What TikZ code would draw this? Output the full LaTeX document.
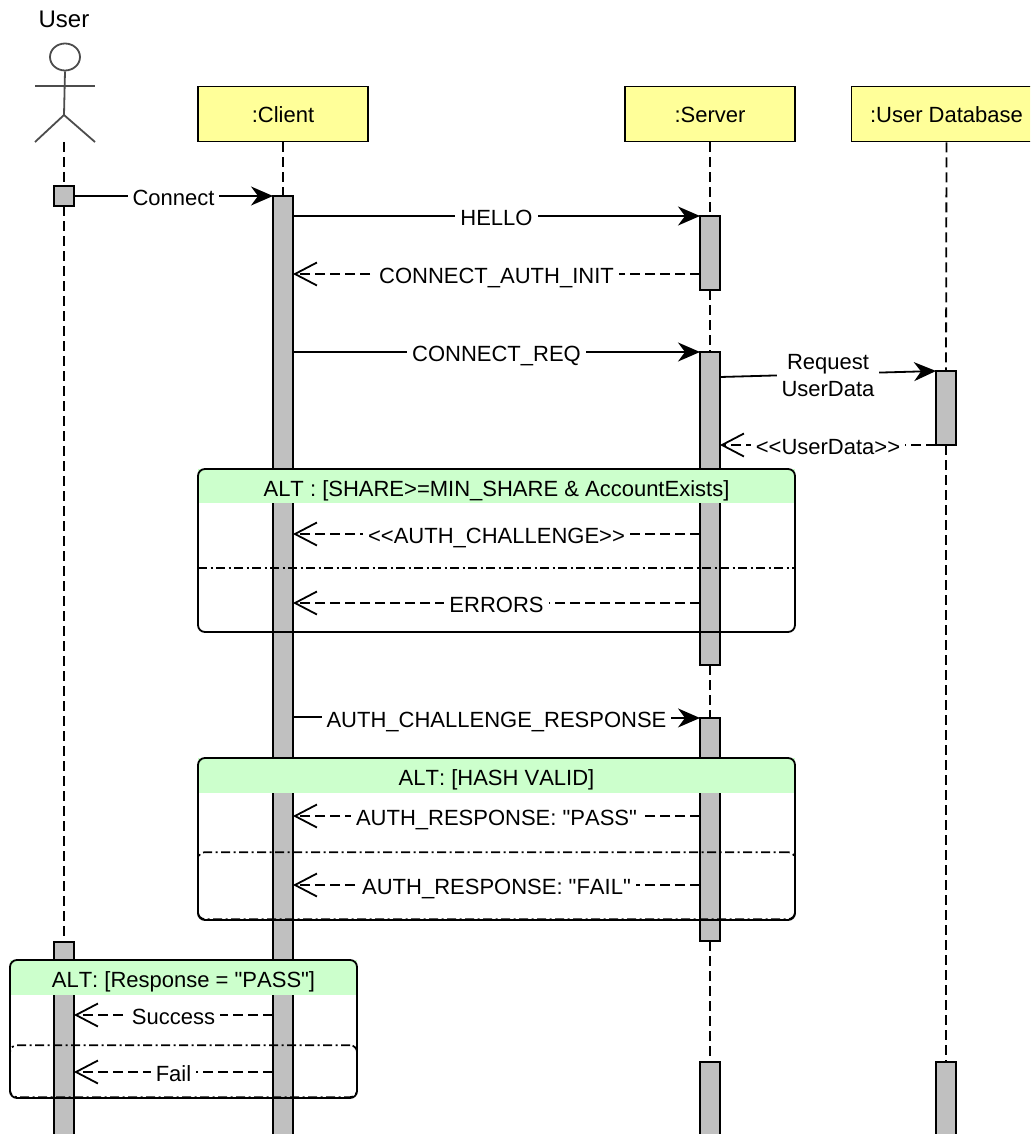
\documentclass[tikz,border=0pt]{standalone}
\usepackage{fontspec}
\setmainfont{Liberation Sans}[Ligatures=TeXOff, Kerning=Off]
\usetikzlibrary{arrows.meta, positioning, calc, shapes.geometric}
\definecolor{headfill}{HTML}{FFFF99}
\definecolor{barfill}{HTML}{C0C0C0}
\definecolor{altfill}{HTML}{CCFFCC}
\begin{document}
\begin{tikzpicture}[x=1pt, y=-1pt, line width=1.8pt,
    every node/.style={font=\fontsize{22}{27}\selectfont},
    head/.style={draw, fill=headfill, minimum height=55pt, inner sep=0pt, text height=17pt, text depth=0pt},
    bar/.style={draw, fill=barfill, minimum width=20pt, inner sep=0pt, outer sep=0pt, anchor=north},
    althead/.style={fill=altfill, minimum height=34pt, inner sep=0pt, outer sep=0pt, anchor=north west, text height=20pt, text depth=0pt},
    altbox/.style={draw, rounded corners=7pt, inner sep=0pt, outer sep=0pt, anchor=north},
    altlow/.style={draw, altdash, rounded corners=7pt, inner sep=0pt, anchor=south},
    altdash/.style={line width=1.7pt, dash pattern=on 9pt off 3.5pt on 2pt off 3.5pt},
    life/.style={dash pattern=on 10pt off 5pt},
    call/.style={-{Stealth[length=22pt, width=19pt, inset=7pt]}},
    reply/.style={-{Straight Barb[length=22pt, width=23pt]}, dash pattern=on 10pt off 5pt},
    lbl/.style={midway, fill=white, inner xsep=5pt, inner ysep=1pt, align=center, text height=20pt, text depth=1pt}]
  \clip (0,0) rectangle (1030,1134);
  \node[font=\fontsize{24}{27}\selectfont, text height=17pt, text depth=0pt] (usertitle) at (64,19) {User};
  \node[draw=black!70, ellipse, minimum width=30pt, minimum height=27pt, inner sep=0pt] (userface) at (65,57) {};
  \coordinate (userhip) at (64,115);
  \draw[black!70] (userface.south) -- (userhip) -- (35,142);
  \draw[black!70] (userhip) -- (95,142);
  \draw[black!70] (35,86) -- (95,86);

  \node[head, minimum width=170pt] (client) at (283,114) {:Client};
  \node[head, minimum width=170pt] (server) at (710,114) {:Server};
  \node[head, minimum width=190pt] (database) at (946.5,114) {:User Database};

  \node[bar, minimum height=20pt] (userA) at (64,186) {};
  \node[bar, minimum height=200pt] (userB) at (64,942) {};
  \node[bar, minimum height=950pt] (clientA) at (283,196) {};
  \node[bar, minimum height=74pt] (serverA) at (710,216) {};
  \node[bar, minimum height=313pt] (serverB) at (710,352) {};
  \node[bar, minimum height=223pt] (serverC) at (710,718) {};
  \node[bar, minimum height=80pt] (serverD) at (710,1062) {};
  \node[bar, minimum height=74pt] (databaseA) at (946,371) {};
  \node[bar, minimum height=80pt] (databaseB) at (946,1062) {};

  \draw[life] (64,142) -- (userA.north);
  \draw[life] (userA.south) -- (userB.north);
  \draw[life] (client.south) -- (clientA.north);
  \draw[life] (server.south) -- (serverA.north);
  \draw[life] (serverA.south) -- (serverB.north);
  \draw[life] (serverB.south) -- (serverC.north);
  \draw[life] (serverC.south) -- (serverD.north);
  \draw[life] (database.south) -- (databaseA.north);
  \draw[life] (databaseA.south) -- (databaseB.north);

  \node[althead, minimum width=597pt] (altAhead) at (198,469) {ALT : [SHARE>=MIN\_SHARE \& AccountExists]};
  \node[altbox, minimum width=597pt, minimum height=163pt] (altA) at (altAhead.north) {};
  \draw[altdash] ([yshift=-99pt]altA.north west) -- ([yshift=-99pt]altA.north east);
  \node[althead, minimum width=597pt, minimum height=35pt] (altBhead) at (198,758) {ALT: [HASH VALID]};
  \node[altbox, minimum width=597pt, minimum height=162pt] (altB) at (altBhead.north) {};
  \node[altlow, minimum width=597pt, minimum height=67pt] (altBlow) at (altB.south) {};
  \node[althead, minimum width=347pt, minimum height=35pt] (altChead) at (10,960) {ALT: [Response = "PASS"]};
  \node[altbox, minimum width=347pt, minimum height=138pt] (altC) at (altChead.north) {};
  \node[altlow, minimum width=347pt, minimum height=52pt] (altClow) at (altC.south) {};

  \draw[call] (userA.east) -- (clientA.north west) node[lbl]{Connect};
  \draw[call] ([yshift=-20pt]clientA.north east) -- (serverA.north west) node[lbl]{HELLO};
  \draw[reply] ([yshift=-58pt]serverA.north west) -- ([yshift=-78pt]clientA.north east) node[lbl]{CONNECT\_AUTH\_INIT};
  \draw[call] ([yshift=-156pt]clientA.north east) -- (serverB.north west) node[lbl]{CONNECT\_REQ};
  \draw[call] ([yshift=-25pt]serverB.north east) -- (databaseA.north west) node[lbl, text height=43pt, text depth=0pt, yshift=-1pt]{Request\\UserData};
  \draw[reply] (databaseA.south west) -- ([yshift=-93pt]serverB.north east) node[lbl]{<<UserData>>};
  \draw[reply] ([yshift=-182pt]serverB.north west) -- ([yshift=-338pt]clientA.north east) node[lbl]{<<AUTH\_CHALLENGE>>};
  \draw[reply] ([yshift=-251pt]serverB.north west) -- ([yshift=-407pt]clientA.north east) node[lbl]{ERRORS};
  \draw[call] ([yshift=-521pt]clientA.north east) -- (serverC.north west) node[lbl]{AUTH\_CHALLENGE\_RESPONSE};
  \draw[reply] ([yshift=-98pt]serverC.north west) -- ([yshift=-620pt]clientA.north east) node[lbl]{AUTH\_RESPONSE: "PASS"};
  \draw[reply] ([yshift=-167pt]serverC.north west) -- ([yshift=-689pt]clientA.north east) node[lbl]{AUTH\_RESPONSE: "FAIL"};
  \draw[reply] ([yshift=-819pt]clientA.north west) -- ([yshift=-73pt]userB.north east) node[lbl]{Success};
  \draw[reply] ([yshift=-876pt]clientA.north west) -- ([yshift=-130pt]userB.north east) node[lbl]{Fail};
\end{tikzpicture}
\end{document}
